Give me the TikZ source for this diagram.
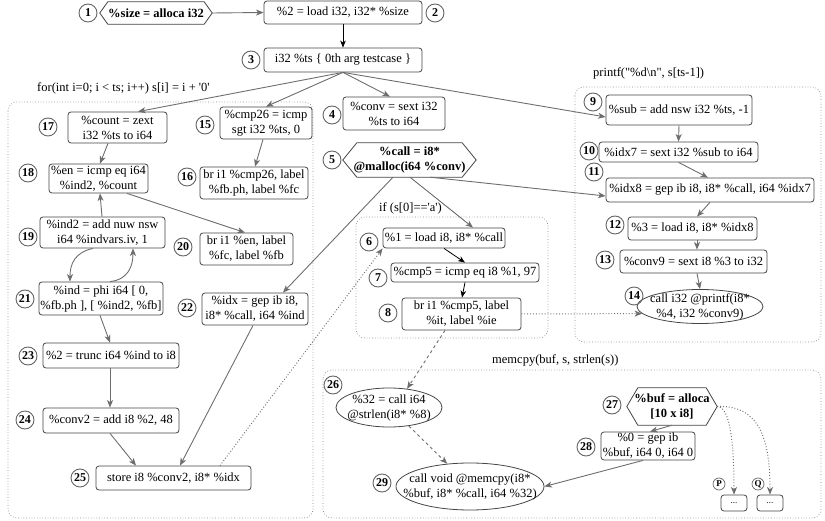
\documentclass[tikz,border=0pt]{standalone}
\usepackage{fontspec}
\setmainfont{Liberation Serif}
\usetikzlibrary{arrows.meta,shapes.geometric}
\definecolor{edgegray}{HTML}{6E6E6E}
\definecolor{boxgray}{HTML}{444444}
\definecolor{grpgray}{HTML}{888888}
\definecolor{numgray}{HTML}{666666}
\newcommand\hexframe[2]{\draw[draw=boxgray, line width=0.8pt] (#1.west) -- ([xshift=#2]#1.north west) -- ([xshift=-#2]#1.north east) -- (#1.east) -- ([xshift=-#2]#1.south east) -- ([xshift=#2]#1.south west) -- cycle;}
\begin{document}
\begin{tikzpicture}[x=1pt,y=-1pt,
  every node/.style={font=\fontsize{12.5}{15}\selectfont},
  box/.style={draw=boxgray, rounded corners=3pt, line width=0.8pt, inner sep=1pt, align=center},
  ell/.style={draw=boxgray, ellipse, line width=0.8pt, inner sep=-30pt, align=center},
  hexn/.style={inner sep=0pt, align=center, font=\fontsize{12.5}{15}\selectfont\bfseries},
  num/.style={circle, draw=numgray, line width=0.9pt, inner sep=0pt, minimum size=18pt, font=\fontsize{12}{12}\selectfont\bfseries},
  sm/.style={circle, draw=numgray, line width=0.7pt, inner sep=0pt, minimum size=12pt, font=\fontsize{9}{9}\selectfont\bfseries},
  grp/.style={draw=grpgray, dotted, line width=0.7pt, rounded corners=9pt},
  ar/.style={draw=edgegray, line width=0.9pt, -{Stealth[length=7.5pt,width=6pt,inset=2pt]}},
  arb/.style={draw=black, line width=0.8pt, -{Stealth[length=7pt,width=5.5pt,inset=2pt]}},
  dotar/.style={ar, dotted, line width=1pt},
  dashar/.style={ar, dashed},
  lbl/.style={anchor=west, inner sep=0pt}
]
\useasboundingbox (0,0) rectangle (825,521);
% groups
\draw[grp] (8,102) rectangle (313,518);
\draw[grp] (575,87) rectangle (821,342);
\draw[grp] (356,217) rectangle (548,338);
\draw[grp] (323,370) rectangle (821,518);
\node[lbl] (gfor) at (37,88) {for(int i=0; i < ts; i++) s[i] = i + \textquotesingle 0\textquotesingle};
\node[lbl] (gpr) at (593,73) {printf(\textquotedbl\%d\textbackslash n\textquotedbl, s[ts-1])};
\node[lbl] (gif) at (379,208) {if (s[0]==\textquotesingle a\textquotesingle)};
\node[lbl] (gmem) at (492,360) {memcpy(buf, s, strlen(s))};
% nodes
\node[hexn, minimum width=112pt, minimum height=22pt] (n1) at (156,13) {\%size = alloca i32};
\hexframe{n1}{8pt}
\node[box, minimum width=158pt, minimum height=23pt] (n2) at (343,12.5) {\%2 = load i32, i32* \%size};
\node[box, minimum width=158pt, minimum height=24pt] (n3) at (343,60) {i32 \%ts \{ 0th arg testcase \}};
\node[box, minimum width=102pt, minimum height=33pt] (n4) at (394,113.5) {\%conv = sext i32\\\%ts to i64};
\node[hexn, minimum width=133pt, minimum height=34pt] (n5) at (409.5,160) {\%call = i8*\\@malloc(i64 \%conv)};
\hexframe{n5}{14pt}
\node[box, minimum width=122pt, minimum height=20pt] (n6) at (444,238) {\%1 = load i8, i8* \%call};
\node[box, minimum width=148pt, minimum height=19pt] (n7) at (465,272.5) {\%cmp5 = icmp eq i8 \%1, 97};
\node[box, minimum width=119pt, minimum height=32pt] (n8) at (461.5,314) {br i1 \%cmp5, label\\\%it, label \%ie};
\node[box, minimum width=146pt, minimum height=30pt] (n9) at (679,110) {\%sub = add nsw i32 \%ts, -1};
\node[box, minimum width=159pt, minimum height=20pt] (n10) at (678.5,152) {\%idx7 = sext i32 \%sub to i64};
\node[box, minimum width=208pt, minimum height=24pt] (n11) at (710,190) {\%idx8 = gep ib i8, i8* \%call, i64 \%idx7};
\node[box, minimum width=129pt, minimum height=23pt] (n12) at (692.5,228.5) {\%3 = load i8, i8* \%idx8};
\node[box, minimum width=147pt, minimum height=23pt] (n13) at (693.5,261.5) {\%conv9 = sext i8 \%3 to i32};
\node[ell, minimum width=126pt, minimum height=34pt] (n14) at (700,306.5) {call i32 @printf(i8*\\\%4, i32 \%conv9)};
\node[box, minimum width=92pt, minimum height=32pt] (n15) at (266,123) {\%cmp26 = icmp\\sgt i32 \%ts, 0};
\node[box, minimum width=108pt, minimum height=32pt] (n16) at (254,183) {br i1 \%cmp26, label\\\%fb.ph, label \%fc};
\node[box, minimum width=99pt, minimum height=31pt] (n17) at (117.5,127.5) {\%count = zext\\i32 \%ts to i64};
\node[box, minimum width=99pt, minimum height=29pt] (n18) at (98.5,178.5) {\%en = icmp eq i64\\\%ind2, \%count};
\node[box, minimum width=125pt, minimum height=31pt] (n19) at (102.5,232.5) {\%ind2 = add nuw nsw\\i64 \%indvars.iv, 1};
\node[box, minimum width=93pt, minimum height=32pt] (n20) at (246.5,249) {br i1 \%en, label\\\%fc, label \%fb};
\node[box, minimum width=124pt, minimum height=33pt] (n21) at (101,298.5) {\%ind = phi i64 [ 0,\\\%fb.ph ], [ \%ind2, \%fb]};
\node[box, minimum width=106pt, minimum height=32pt] (n22) at (255,309) {\%idx = gep ib i8,\\i8* \%call, i64 \%ind};
\node[box, minimum width=136pt, minimum height=25pt] (n23) at (111,355.5) {\%2 = trunc i64 \%ind to i8};
\node[box, minimum width=136pt, minimum height=25pt] (n24) at (111,420.5) {\%conv2 = add i8 \%2, 48};
\node[box, minimum width=155pt, minimum height=24pt] (n25) at (173.5,478) {store i8 \%conv2, i8* \%idx};
\node[ell, minimum width=106pt, minimum height=39pt] (n26) at (389,407.5) {\%32 = call i64\\@strlen(i8* \%8)};
\node[hexn, minimum width=90pt, minimum height=37pt] (n27) at (672,406.5) {\%buf = alloca\\{[}10 x i8{]}};
\hexframe{n27}{11pt}
\node[box, minimum width=94pt, minimum height=28pt] (n28) at (648,446) {\%0 = gep ib\\\%buf, i64 0, i64 0};
\node[ell, minimum width=148pt, minimum height=47pt] (n29) at (470,486.5) {call void @memcpy(i8*\\\%buf, i8* \%call, i64 \%32)};
\node[box, minimum width=26pt, minimum height=16pt, font=\fontsize{9}{9}\selectfont] (nP) at (734,503) {...};
\node[box, minimum width=26pt, minimum height=16pt, font=\fontsize{9}{9}\selectfont] (nQ) at (770,503) {...};
% number circles
\node[num] (c1) at (88,13) {1};
\node[num] (c2) at (435,13) {2};
\node[num] (c3) at (251,60) {3};
\node[num] (c4) at (332,115) {4};
\node[num] (c5) at (332,160) {5};
\node[num] (c6) at (369,242) {6};
\node[num] (c7) at (378,278) {7};
\node[num] (c8) at (388,313) {8};
\node[num] (c9) at (593,102) {9};
\node[num] (c10) at (589,151) {10};
\node[num] (c11) at (594,172) {11};
\node[num] (c12) at (615,225) {12};
\node[num] (c13) at (605,260) {13};
\node[num] (c14) at (634,296) {14};
\node[num] (c15) at (205,125) {15};
\node[num] (c16) at (187,177) {16};
\node[num] (c17) at (48,127) {17};
\node[num] (c18) at (28,173) {18};
\node[num] (c19) at (28,237) {19};
\node[num] (c20) at (183,247) {20};
\node[num] (c21) at (25,299) {21};
\node[num] (c22) at (187,308) {22};
\node[num] (c23) at (28,356) {23};
\node[num] (c24) at (25,420) {24};
\node[num] (c25) at (80,478) {25};
\node[num] (c26) at (333,385) {26};
\node[num] (c27) at (612,405) {27};
\node[num] (c28) at (586,447) {28};
\node[num] (c29) at (382,483) {29};
\node[sm] (cP) at (719,484) {P};
\node[sm] (cQ) at (758,484) {Q};
% edges
\draw[ar] (n1.east) -- (n2.west);
\draw[arb] (n2.south) -- (n3.north);
\draw[ar] (n3.south) -- ([xshift=20.5pt]n17.north);
\draw[ar] (n3.south) -- (n15.north);
\draw[ar] (n3.south) -- ([xshift=-4pt]n4.north);
\draw[ar] (n3.south) -- ([yshift=-7pt]n9.west);
\draw[ar] ([xshift=-9.5pt]n17.south) -- ([xshift=1.5pt]n18.north);
\draw[ar] ([xshift=-3pt]n15.south) -- ([xshift=1pt]n16.north);
\draw[ar] ([xshift=-0.5pt]n19.north) -- ([xshift=1.5pt]n18.south);
\draw[ar] ([xshift=28.5pt]n18.south) -- ([xshift=-1.5pt]n20.north);
\draw[ar] ([xshift=-9.5pt]n19.south) .. controls +(-18,4) and +(0,-18) .. ([xshift=-31pt]n21.north);
\draw[ar] ([xshift=9pt]n21.north) .. controls +(18,-2) and +(0,18) .. ([xshift=30.5pt]n19.south);
\draw[ar] ([xshift=-1pt]n21.south) -- ([xshift=-1pt]n23.north);
\draw[ar] ([xshift=-1pt]n23.south) -- ([xshift=-1pt]n24.north);
\draw[ar] ([xshift=-1pt]n24.south) -- ([xshift=-37.5pt]n25.north);
\draw[ar] ([xshift=-2pt]n22.south) -- ([xshift=6.5pt]n25.north);
\draw[dotar] ([xshift=46.5pt]n25.north) -- (n6.south west);
\draw[ar] ([xshift=-16.5pt]n5.south) -- ([xshift=28pt]n22.north);
\draw[ar] ([xshift=0.5pt]n5.south) -- ([xshift=29pt]n6.north);
\draw[ar] ([xshift=20.5pt]n5.south) -- ([yshift=-6pt]n11.west);
\draw[arb] (n6.south) -- (n7.north);
\draw[arb] (n7.south) -- ([xshift=0.5pt]n8.north);
\draw[dotar] (n8.east) -- (n14.187);
\draw[ar] (n9.south) -- (n10.north);
\draw[ar] (n10.south) -- ([xshift=-2pt]n11.north);
\draw[ar] (n11.south) -- ([xshift=4.5pt]n12.north);
\draw[ar] ([xshift=4.5pt]n12.south) -- ([xshift=3.5pt]n13.north);
\draw[ar] ([xshift=3.5pt]n13.south) -- (n14.north);
\draw[dashar] ([xshift=-16.5pt]n8.south) -- (n26.46);
\draw[dashar] (n26.-43) -- (n29.135);
\draw[ar] ([xshift=-5pt]n28.south) -- (n29.east);
\draw[ar] (n27.south) -- ([xshift=2pt]n28.north);
\draw[dotar] (n27.east) .. controls +(14,0) and +(0,-45) .. (nP.north);
\draw[dotar] (n27.east) .. controls +(45,-2) and +(0,-50) .. (nQ.north);
\end{tikzpicture}
\end{document}
